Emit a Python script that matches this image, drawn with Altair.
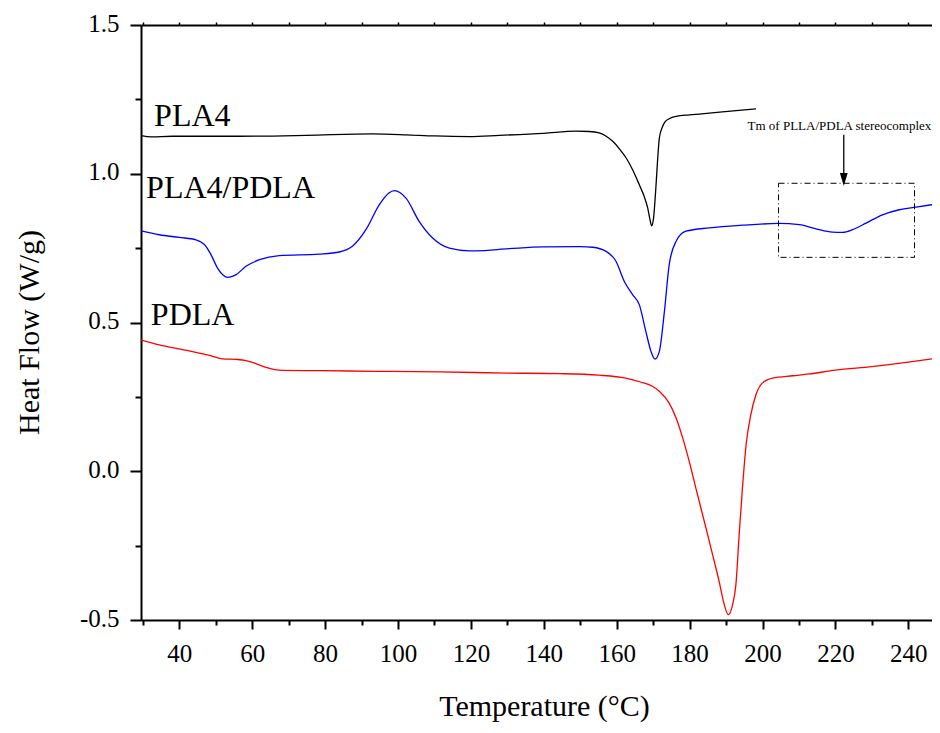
import altair as alt
import pandas as pd

# ---------------- data ----------------
series_names = ["PLA4", "PLA4/PDLA", "PDLA"]
series_colors = ["#000000", "#0000ff", "#ff0000"]

pla4_T = [29.5, 32.3, 38, 56.5, 74.8, 93, 102.2, 110, 119.6, 127.8, 140, 148.8, 152.5,
          155.2, 157, 158.9, 160.8, 162.6, 164.5, 166.2, 167.5, 168.5, 169.1, 169.6,
          170.1, 170.8, 171.2, 171.7, 172.6, 173.3, 174.4, 176.3, 180, 185.4, 192, 198.2]
pla4_V = [1.128, 1.124, 1.126, 1.126, 1.129, 1.134, 1.131, 1.127, 1.125, 1.129, 1.136, 1.143, 1.142,
          1.137, 1.127, 1.109, 1.083, 1.053, 1.010, 0.963, 0.925, 0.885, 0.848, 0.825,
          0.850, 0.963, 1.042, 1.120, 1.159, 1.175, 1.185, 1.193, 1.198, 1.204, 1.211, 1.218]

blend_T = [29.5, 34.5, 40, 44.6, 46.9, 48.7, 50.5, 52, 53.3, 54.5, 55.6, 58.3, 62, 67.4,
           78.4, 83.9, 87.5, 91.2, 94.9, 97.5, 99, 100.5, 102.2, 105.8, 109.5, 114.1,
           119.6, 121.4, 130.5, 139.7, 150, 153.4, 157.1, 159.8, 162.1, 164.4, 166.2,
           168, 169.4, 170.5, 171.7, 173.1, 174.4, 176.3, 179, 185.4, 194.5, 204.4,
           210.1, 214.7, 219.2, 222, 224.7, 228.4, 232.9, 237.5, 242.1, 246.5]
blend_V = [0.808, 0.795, 0.786, 0.778, 0.762, 0.728, 0.683, 0.660, 0.652, 0.655, 0.661, 0.689, 0.711, 0.725,
           0.730, 0.737, 0.756, 0.812, 0.896, 0.935, 0.943, 0.937, 0.918, 0.840, 0.784, 0.750,
           0.741, 0.741, 0.748, 0.754, 0.755, 0.753, 0.739, 0.706, 0.638, 0.593, 0.560,
           0.470, 0.403, 0.377, 0.403, 0.538, 0.694, 0.773, 0.807, 0.818, 0.827, 0.833,
           0.829, 0.815, 0.804, 0.803, 0.812, 0.834, 0.862, 0.879, 0.888, 0.896]

pdla_T = [29.5, 34.5, 42.7, 48, 51.9, 55.6, 58.3, 61, 63.8, 68.3, 79.3, 93, 111.3, 130,
          144.3, 155, 162.5, 166.5, 169.9, 171.7, 174.4, 176.3, 178.1, 179.9, 181.7,
          184.5, 186.3, 188.1, 189.5, 190.6, 191.8, 192.7, 193.6, 194.5, 195.5, 196.8,
          198.2, 200, 202.8, 208.3, 212.8, 220, 230, 240, 246.5]
pdla_V = [0.442, 0.425, 0.405, 0.390, 0.378, 0.376, 0.372, 0.362, 0.349, 0.339, 0.338, 0.336, 0.334, 0.330,
          0.328, 0.323, 0.313, 0.300, 0.285, 0.269, 0.229, 0.179, 0.112, 0.033, -0.056,
          -0.191, -0.280, -0.370, -0.448, -0.482, -0.448, -0.381, -0.213, -0.056, 0.089, 0.190,
          0.257, 0.297, 0.313, 0.321, 0.327, 0.340, 0.352, 0.367, 0.378]

label_text = ["PLA4", "PLA4/PDLA", "PDLA"]
label_T = [33.1, 30.9, 32.2]
label_V = [1.160, 0.918, 0.493]

note_text = ["Tm of PLLA/PDLA stereocomplex"]
note_T = [221.1]
note_V = [1.160]

arrow_T = [222.3]
arrow_V_from = [1.131]
arrow_V_to = [0.99]
head_V = [0.981]

box_T = [204.4, 241.7]
box_V = [0.719, 0.968]

x_ticks = [30, 40, 50, 60, 70, 80, 90, 100, 110, 120, 130, 140, 150, 160, 170,
           180, 190, 200, 210, 220, 230, 240]
y_ticks = [-0.5, -0.25, 0.0, 0.25, 0.5, 0.75, 1.0, 1.25, 1.5]

# ---------------- tables ----------------
rows = []
for name, Ts, Vs in zip(series_names, [pla4_T, blend_T, pdla_T], [pla4_V, blend_V, pdla_V]):
    for i, (t, v) in enumerate(zip(Ts, Vs)):
        rows.append({"series": name, "T": t, "V": v, "order": i})
df_lines = pd.DataFrame(rows)
df_labels = pd.DataFrame({"label": label_text, "T": label_T, "V": label_V})
df_note = pd.DataFrame({"text": note_text, "T": note_T, "V": note_V})
df_arrow = pd.DataFrame({"T": arrow_T, "V1": arrow_V_from, "V2": arrow_V_to, "VH": head_V})
df_box = pd.DataFrame({"T1": [box_T[0]], "T2": [box_T[1]], "V1": [box_V[0]], "V2": [box_V[1]]})

FONT = "Liberation Serif"
x_scale = alt.Scale(domain=[29.5, 246.5], nice=False, zero=False)
y_scale = alt.Scale(domain=[-0.5, 1.5], nice=False, zero=False)

xmaj = "datum.value % 20 == 0"
ymaj = "abs(datum.value * 2 - round(datum.value * 2)) < 0.001"

bottom_axis = alt.Axis(
    orient="bottom", values=x_ticks,
    labelExpr=f"{xmaj} ? datum.label : ''",
    tickSize={"condition": {"test": xmaj, "value": 9}, "value": 5},
    tickColor="black", tickWidth=2, domainColor="black", domainWidth=2, grid=False,
    labelFont=FONT, labelFontSize=25, labelColor="black", labelPadding=12,
    labelFlush=False, labelOverlap=False,
    title="Temperature (°C)", titleFont=FONT, titleFontSize=30, titleFontWeight="normal",
    titleColor="black", titleX=403, titleY=95, titleBaseline="alphabetic", titleAlign="center",
)
left_axis = alt.Axis(
    orient="left", values=y_ticks,
    labelExpr=f"{ymaj} ? replace(format(datum.value, '.1f'), '−', '-') : ''",
    tickSize={"condition": {"test": ymaj, "value": 11}, "value": 6},
    tickColor="black", tickWidth=2, domainColor="black", domainWidth=2, grid=False,
    labelFont=FONT, labelFontSize=25, labelColor="black", labelPadding=11,
    labelOffset=-2,
    labelFlush=False, labelOverlap=False,
    title="Heat Flow (W/g)", titleFont=FONT, titleFontSize=30, titleFontWeight="normal",
    titleColor="black", titleX=-112, titleY=307, titleAngle=-90, titleBaseline="middle",
    titleAlign="center",
)
top_axis = alt.Axis(
    orient="top", values=x_ticks, labels=False, tickSize=3, tickColor="black", tickWidth=1.5,
    domainColor="black", domainWidth=2, grid=False, title=None,
)

lines = alt.Chart(df_lines).mark_line(strokeWidth=1.3, interpolate="monotone", clip=True).encode(
    x=alt.X("T:Q", scale=x_scale, axis=bottom_axis),
    y=alt.Y("V:Q", scale=y_scale, axis=left_axis),
    color=alt.Color("series:N", scale=alt.Scale(domain=series_names, range=series_colors), legend=None),
    order=alt.Order("order:Q"),
)

box = alt.Chart(df_box).mark_rect(
    fillOpacity=0, stroke="black", strokeWidth=1, strokeDash=[6, 3, 1, 3]
).encode(
    x=alt.X("T1:Q", scale=x_scale, axis=top_axis),
    x2="T2:Q",
    y=alt.Y("V1:Q", scale=y_scale, axis=None),
    y2="V2:Q",
)

arrow = alt.Chart(df_arrow).mark_rule(color="black", strokeWidth=1.3).encode(
    x=alt.X("T:Q", scale=x_scale, axis=None),
    y=alt.Y("V1:Q", scale=y_scale, axis=None),
    y2="V2:Q",
)
head = alt.Chart(df_arrow).mark_point(
    shape="M-0.6,-1L0.6,-1L0,1Z", filled=True, color="black", opacity=1, size=169
).encode(
    x=alt.X("T:Q", scale=x_scale, axis=None),
    y=alt.Y("VH:Q", scale=y_scale, axis=None),
)

note = alt.Chart(df_note).mark_text(
    align="center", baseline="middle", font=FONT, fontSize=13, color="black"
).encode(
    x=alt.X("T:Q", scale=x_scale, axis=None),
    y=alt.Y("V:Q", scale=y_scale, axis=None),
    text="text:N",
)

labels = alt.Chart(df_labels).mark_text(
    align="left", baseline="alphabetic", font=FONT, fontSize=32, color="black"
).encode(
    x=alt.X("T:Q", scale=x_scale, axis=None),
    y=alt.Y("V:Q", scale=y_scale, axis=None),
    text="label:N",
)

chart = (
    alt.layer(lines, box, arrow, head, note, labels)
    .resolve_axis(x="independent", y="independent")
    .properties(
        width=791, height=595,
        autosize=alt.AutoSizeParams(type="none"),
        padding={"left": 133, "top": 17, "right": 0, "bottom": 104},
        background="white",
    )
    .configure_view(stroke=None)
    .configure_axis(labelFont=FONT, titleFont=FONT, labelFontSize=25, labelColor="black")
)

chart.save("out.html", embed_options={"renderer": "svg", "actions": False})
